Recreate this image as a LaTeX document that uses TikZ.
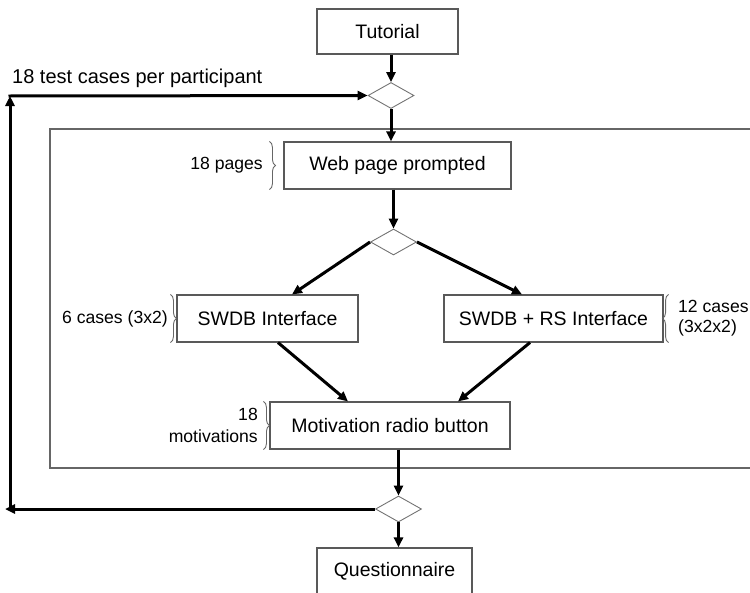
\documentclass[tikz,border=0pt]{standalone}
\usepackage{fontspec}
\setmainfont{Liberation Sans}
\usetikzlibrary{arrows.meta,shapes.geometric,decorations.pathreplacing}

\begin{document}
\begin{tikzpicture}[
    x=1pt, y=-1pt,
    box/.style={rectangle, draw=black!65, line width=1.1pt, minimum height=47pt, align=center, font=\fontsize{19.5}{23}\selectfont, inner sep=0pt},
    decision/.style={diamond, draw=black!55, line width=0.9pt, minimum width=46pt, minimum height=26pt, inner sep=0pt},
    arrow/.style={-{Triangle[length=10pt, width=9pt]}, line width=3pt},
    side/.style={font=\fontsize{17.6}{21.5}\selectfont, inner sep=0pt},
    cbrace/.style={decorate, decoration={brace, amplitude=6pt}, draw=black!60, line width=0.9pt},
    frame/.style={draw=black!60, line width=1.1pt}
]
\useasboundingbox (0,0) rectangle (750,592);

% Outer frame (open on the right)
\draw[frame] (752,129) -- (50,129) -- (50,468) -- (752,468);

% Nodes
\node[box, minimum width=141pt, minimum height=45pt] (tut) at (387.5,31.5) {Tutorial};
\node[decision] (dec1) at (391,95.5) {};
\node[box, minimum width=227pt] (web) at (397.5,165.5) {Web page prompted};
\node[decision] (dec2) at (393.5,242) {};
\node[box, minimum width=181pt] (swdb) at (267.5,318.5) {SWDB Interface};
\node[box, minimum width=219pt] (swdbrs) at (553.5,318.5) {SWDB + RS Interface};
\node[box, minimum width=240pt] (motiv) at (390,425.5) {Motivation radio button};
\node[decision] (dec3) at (398.5,509) {};
\node[box, minimum width=155pt] (quest) at (394.5,571.5) {Questionnaire};

% Side labels with braces
\draw[cbrace] ([xshift=-14pt]web.north west) -- ([xshift=-14pt]web.south west);
\node[side, anchor=east] (lpages) at (263,165.5) {18 pages};
\draw[cbrace] ([xshift=-6pt]swdb.north west) -- ([xshift=-6pt]swdb.south west);
\node[side, anchor=east] (lcases) at (168,318.5) {6 cases (3x2)};
\draw[cbrace] ([xshift=5pt]swdbrs.south east) -- ([xshift=5pt]swdbrs.north east);
\node[side, anchor=west, align=left, font=\fontsize{17.6}{20}\selectfont] (lcases2) at (678,318.5) {12 cases\\(3x2x2)};
\draw[cbrace] ([xshift=-6pt]motiv.north west) -- ([xshift=-6pt]motiv.south west);
\node[side, anchor=east, align=right] (lmotiv) at (258,425.5) {18\\motivations};

% Main flow
\draw[arrow] (dec1.north |- tut.south) -- (dec1.north);
\draw[arrow] (dec1.south) -- (dec1.south |- web.north);
\draw[arrow] (dec2.north |- web.south) -- (dec2.north);
\draw[arrow] (dec2.west) -- ([xshift=24.5pt]swdb.north);
\draw[arrow] (dec2.east) -- ([xshift=-31.5pt]swdbrs.north);
\draw[arrow] ([xshift=10.5pt]swdb.south) -- ([xshift=-42pt]motiv.north);
\draw[arrow] ([xshift=-23.5pt]swdbrs.south) -- ([xshift=68pt]motiv.north);
\draw[arrow] (dec3.north |- motiv.south) -- (dec3.north);
\draw[arrow] (dec3.south) -- (dec3.south |- quest.north);

% Loop back to the start
\coordinate (loopend) at (5,509);
\coordinate (loopbot) at (10,510.5);
\coordinate (looptop) at (10,96);
\draw[arrow] (dec3.west) -- (loopend);
\draw[arrow] (loopbot) -- (looptop);
\draw[arrow] ([xshift=-1.5pt]looptop) -- (dec1.west);
\node[anchor=south west, font=\fontsize{20}{24}\selectfont, inner sep=0pt] (lloop) at (12,88) {18 test cases per participant};

\end{tikzpicture}
\end{document}
